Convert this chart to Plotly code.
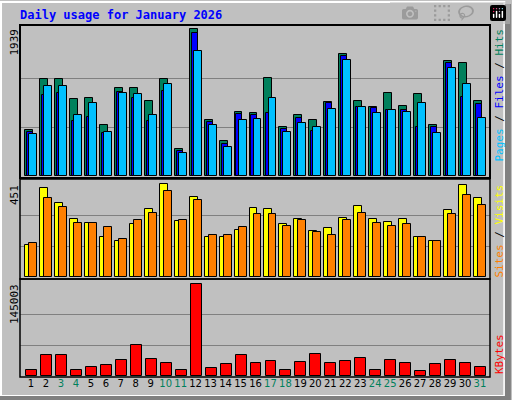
import plotly.graph_objects as go

days = list(range(1, 32))
day_labels = [str(d) for d in days]
weekend = [3, 4, 10, 11, 17, 18, 24, 25, 31]
hits_px = [46, 97, 97, 77, 78, 51, 88, 88, 75, 97, 27, 147, 56, 35, 64, 63, 98, 49, 61, 56, 74, 122, 75, 69, 83, 70, 82, 51, 115, 113, 75]
files_px = [44, 81, 83, 55, 59, 43, 84, 78, 55, 85, 25, 143, 54, 32, 62, 61, 63, 47, 58, 45, 73, 120, 69, 68, 66, 66, 49, 49, 113, 79, 72]
pages_px = [42, 90, 90, 61, 73, 44, 83, 82, 61, 92, 23, 125, 51, 29, 56, 57, 78, 44, 53, 49, 67, 116, 69, 63, 66, 64, 73, 43, 108, 92, 58]
hits = [round(v * 1939 / 147) for v in hits_px]
files = [round(v * 1939 / 147) for v in files_px]
pages = [round(v * 1939 / 147) for v in pages_px]
visits_px = [32, 89, 74, 58, 54, 40, 36, 53, 68, 93, 56, 80, 40, 40, 47, 69, 68, 53, 58, 46, 49, 59, 71, 58, 55, 58, 40, 36, 67, 92, 79]
sites_px = [34, 79, 70, 54, 54, 50, 38, 57, 64, 86, 57, 77, 42, 42, 50, 63, 63, 51, 57, 45, 42, 57, 64, 54, 51, 53, 40, 36, 63, 82, 72]
visits = [round(v * 451 / 93) for v in visits_px]
sites = [round(v * 451 / 93) for v in sites_px]
kb_px = [6, 21, 21, 6, 9, 11, 16, 31, 17, 13, 6, 92, 8, 12, 21, 13, 15, 6, 14, 22, 13, 15, 18, 6, 16, 13, 5, 12, 16, 13, 9]
kbytes = [round(v * 145003 / 92) for v in kb_px]

HITS, FILES, PAGES = "#00805C", "#0000FF", "#00C0FF"
VISITS, SITES, KB = "#FFFF00", "#FF8000", "#FF0000"
GRAY = "#C0C0C0"

fig = go.Figure()
line = dict(color="black", width=1)

def bar(y, color, off, w, xa, ya):
    fig.add_trace(go.Bar(x=days, y=y, marker=dict(color=color, line=line),
                         offset=off, width=w, xaxis=xa, yaxis=ya, showlegend=False))

bar(hits, HITS, -0.4, 0.53, "x", "y")
bar(files, FILES, -0.27, 0.4, "x", "y")
bar(pages, PAGES, -0.13, 0.53, "x", "y")
bar(visits, VISITS, -0.4, 0.53, "x2", "y2")
bar(sites, SITES, -0.13, 0.53, "x2", "y2")
bar(kbytes, KB, -0.33, 0.73, "x3", "y3")

xr = [0.265, 31.67]
xdom = [20 / 512, 490 / 512]
def py(p):
    return 1 - p / 400

ticktext = [f"<span style='color:{'#00805C' if d in weekend else 'black'}'>{d}</span>" for d in days]
common_x = dict(range=xr, domain=xdom, showgrid=False, zeroline=False, fixedrange=True)
fig.update_layout(
    width=512, height=400, margin=dict(l=0, r=0, t=0, b=0),
    paper_bgcolor=GRAY, plot_bgcolor=GRAY, barmode="overlay", bargap=0,
    font=dict(family="DejaVu Sans Mono", size=11, color="black"),
    xaxis=dict(**common_x, anchor="y", showticklabels=False, ticks=""),
    xaxis2=dict(**common_x, anchor="y2", showticklabels=False, ticks=""),
    xaxis3=dict(**common_x, anchor="y3", tickvals=days, ticktext=ticktext, ticks="",
                tickangle=0, tickfont=dict(family="DejaVu Sans", size=10)),
    yaxis=dict(domain=[py(176), py(25)], range=[0, 1939 * 151 / 147],
               tickvals=[1939 / 3, 1939 * 2 / 3], showticklabels=False,
               gridcolor="#808080", zeroline=False, fixedrange=True),
    yaxis2=dict(domain=[py(277), py(181)], range=[0, 451 * 96 / 93],
                tickvals=[451 / 3, 451 * 2 / 3], showticklabels=False,
                gridcolor="#808080", zeroline=False, fixedrange=True),
    yaxis3=dict(domain=[py(376), py(280)], range=[0, 145003 * 96 / 92],
                tickvals=[145003 / 3, 145003 * 2 / 3], showticklabels=False,
                gridcolor="#808080", zeroline=False, fixedrange=True),
)

shapes = [
    dict(type="rect", xref="paper", yref="paper", x0=0.002, x1=0.985, y0=0.01, y1=0.995,
         line=dict(color="white", width=2)),
    dict(type="rect", xref="paper", yref="paper", x0=xdom[0], x1=xdom[1], y0=py(178), y1=py(25),
         line=dict(color="black", width=2), layer="above"),
    dict(type="rect", xref="paper", yref="paper", x0=xdom[0], x1=xdom[1], y0=py(279), y1=py(179),
         line=dict(color="black", width=1.5), layer="above"),
    dict(type="rect", xref="paper", yref="paper", x0=xdom[0], x1=xdom[1], y0=py(377), y1=py(279),
         line=dict(color="black", width=1.5), layer="above"),
    dict(type="line", xref="paper", yref="paper", x0=0.992, x1=0.992, y0=0, y1=0.99,
         line=dict(color="#808080", width=6)),
    dict(type="line", xref="paper", yref="paper", x0=0, x1=0.99, y0=0.005, y1=0.005,
         line=dict(color="#808080", width=4)),
]
fig.update_layout(shapes=shapes)

ann = [
    dict(x=18 / 512, y=py(15), text="<b>Daily usage for January 2026</b>", xanchor="left",
         yanchor="middle", font=dict(color="#0000FF", size=12, family="DejaVu Sans Mono")),
    dict(x=14 / 512, y=py(27), text="1939", textangle=-90, xanchor="center", yanchor="top"),
    dict(x=14 / 512, y=py(183), text="451", textangle=-90, xanchor="center", yanchor="top"),
    dict(x=14 / 512, y=py(282), text="145003", textangle=-90, xanchor="center", yanchor="top"),
    dict(x=499 / 512, y=py(27), textangle=-90, xanchor="center", yanchor="top",
         text=f"<span style='color:{PAGES}'>Pages</span> / <span style='color:{FILES}'>Files</span> / <span style='color:{HITS}'>Hits</span>"),
    dict(x=499 / 512, y=py(183), textangle=-90, xanchor="center", yanchor="top",
         text=f"<span style='color:{SITES}'>Sites</span> / <span style='color:{VISITS}'>Visits</span>"),
    dict(x=499 / 512, y=py(376), textangle=-90, xanchor="center", yanchor="bottom",
         text=f"<span style='color:{KB}'>KBytes</span>"),
]
for a in ann:
    a.setdefault("xref", "paper"); a.setdefault("yref", "paper"); a["showarrow"] = False
fig.update_layout(annotations=ann)

fig.write_html("out.html", post_script="document.body.style.margin='0';document.body.style.overflow='hidden';")
